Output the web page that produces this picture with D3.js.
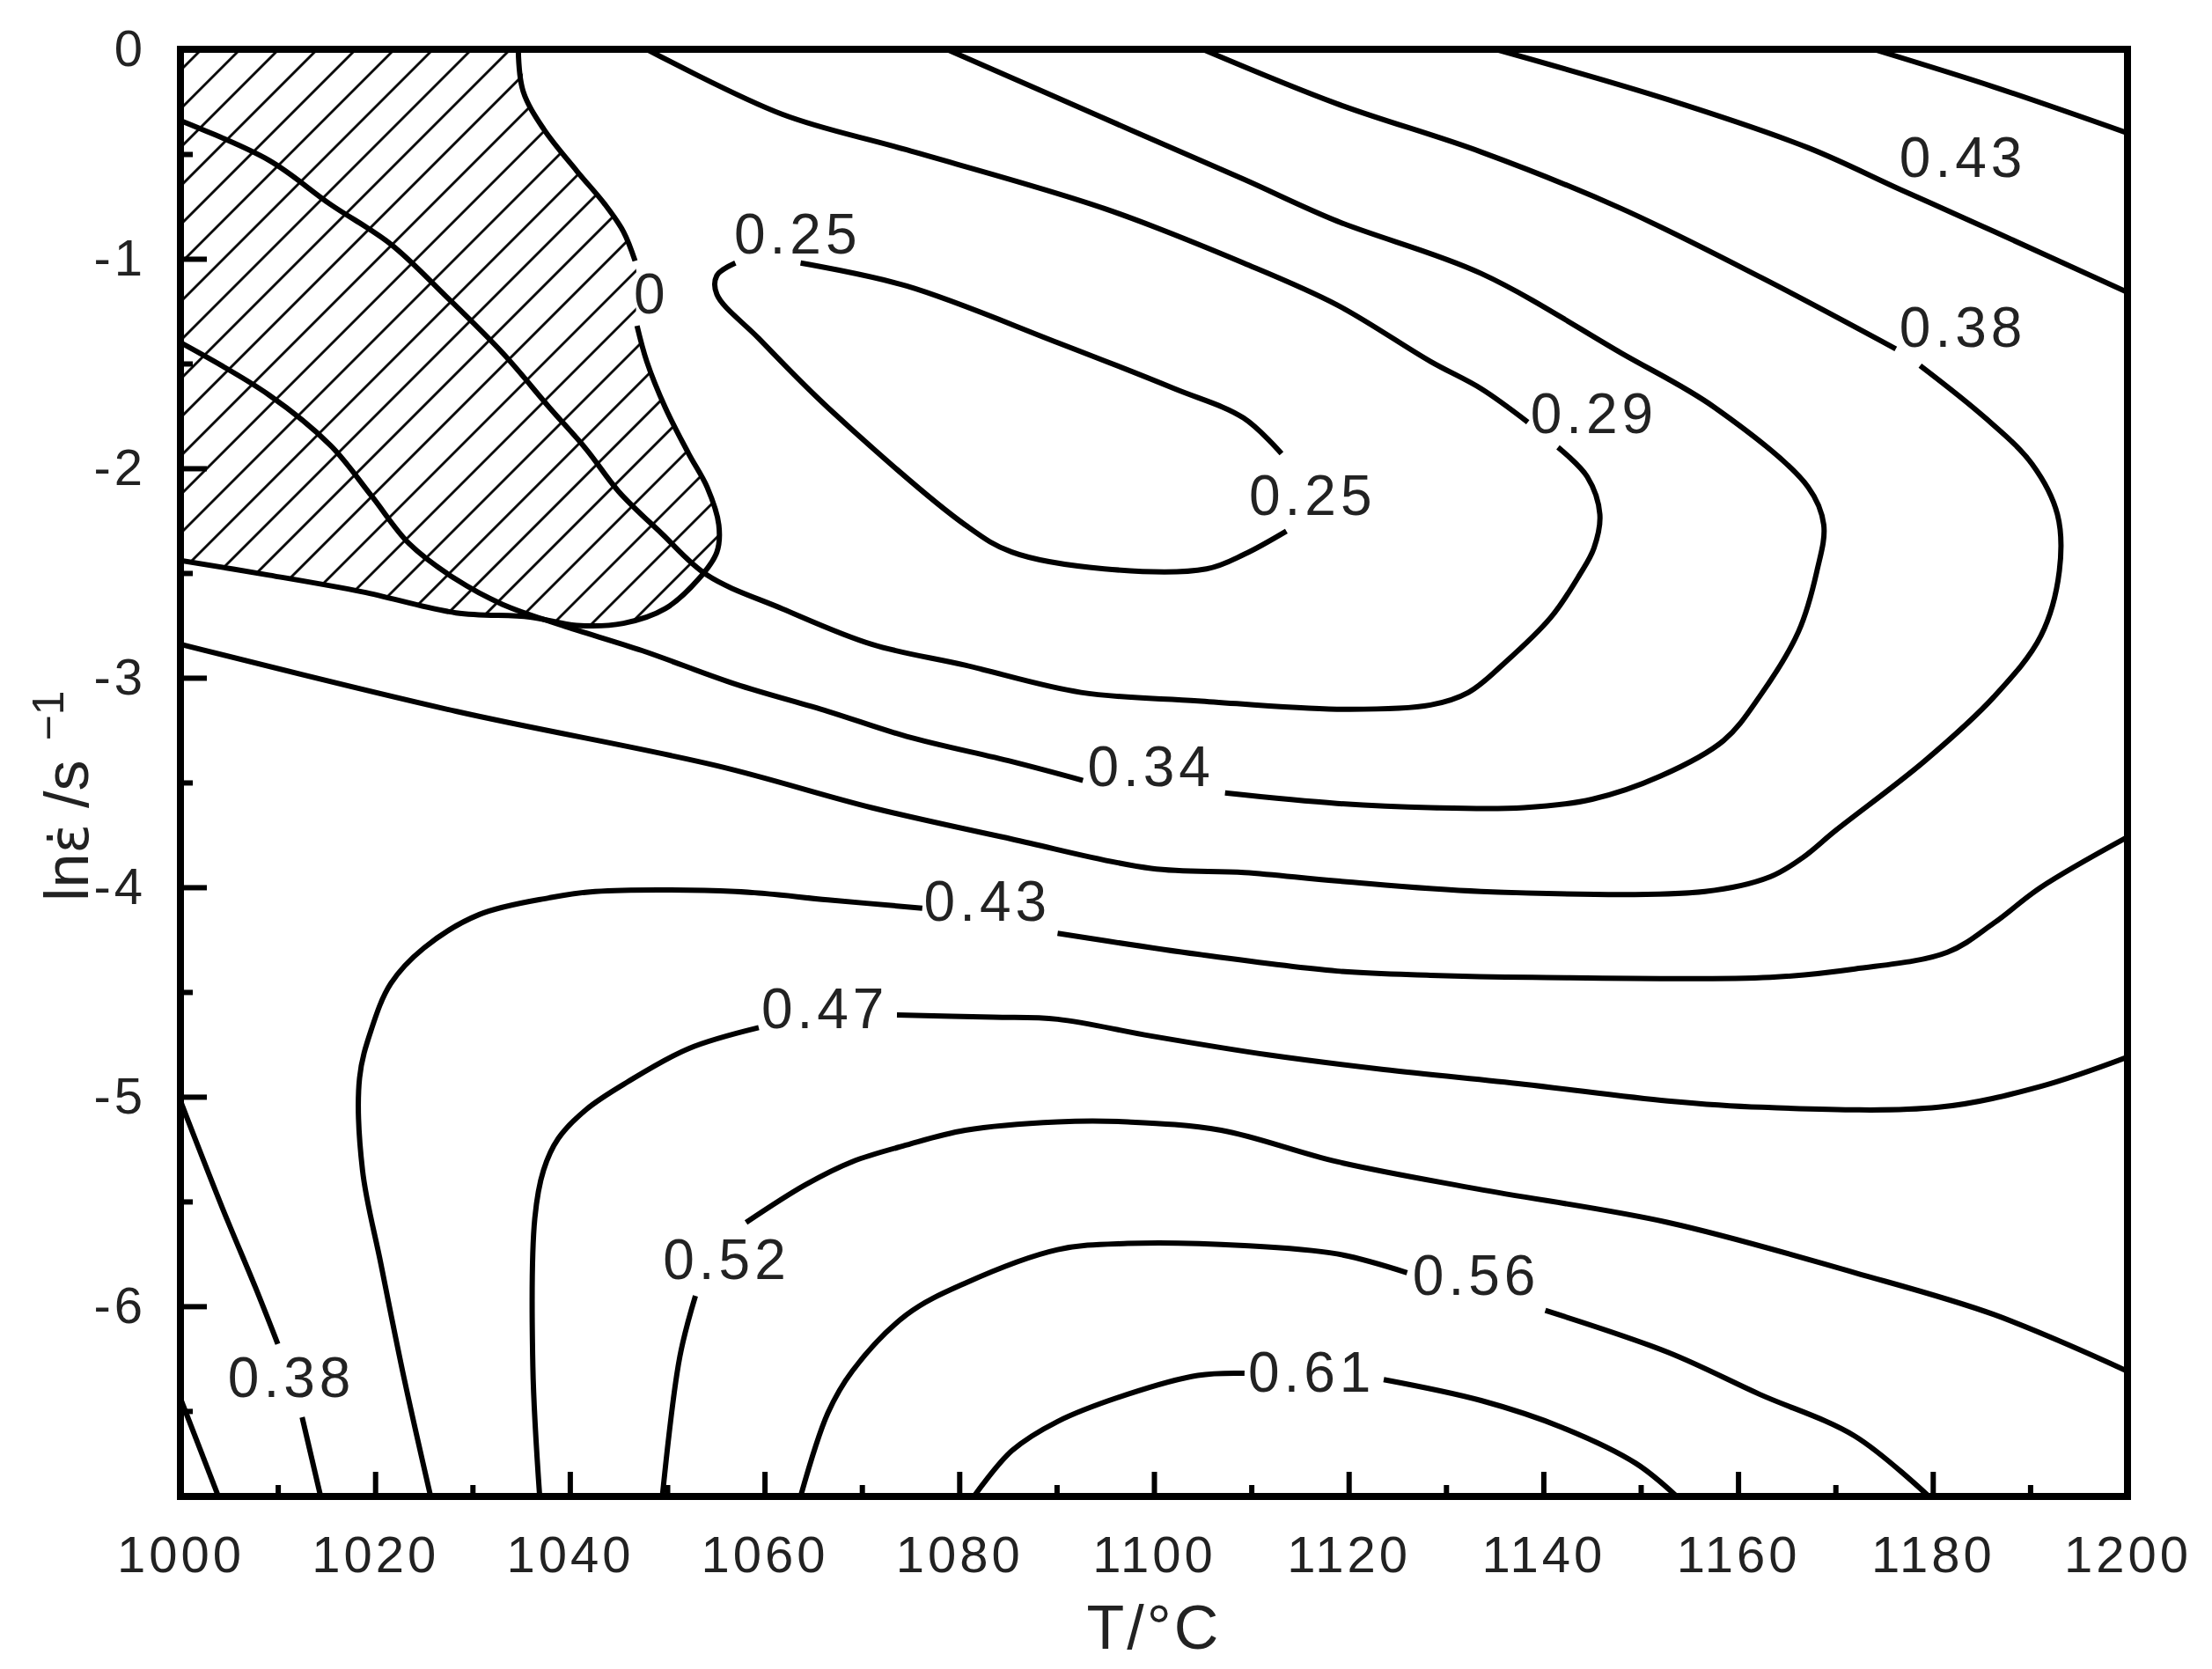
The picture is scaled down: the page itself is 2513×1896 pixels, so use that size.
<!DOCTYPE html>
<html>
<head>
<meta charset="utf-8">
<script src="https://cdn.jsdelivr.net/npm/d3@7"></script>
<style>
  html, body { margin: 0; padding: 0; background: #fff; }
  svg { display: block; }
  text { font-family: "Liberation Sans", Arial, sans-serif; }
</style>
</head>
<body>
<div id="chart"></div>
<script>
// ===== data (T in °C, lnε̇ in ln(s^-1)) =====
const xTicks = [1000, 1020, 1040, 1060, 1080, 1100, 1120, 1140, 1160, 1180, 1200];
const xMinor = [1010, 1030, 1050, 1070, 1090, 1110, 1130, 1150, 1170, 1190];
const yTicks = [0, -1, -2, -3, -4, -5, -6];
const yMinor = [-0.5, -1.5, -2.5, -3.5, -4.5, -5.5, -6.5];

// contour 0 (boundary of the hatched instability zone), split at its label
const c000a = [[1034.7,0],[1035.2,-0.20],[1037.3,-0.38],[1040.7,-0.58],[1043.6,-0.74],[1045.5,-0.87],[1046.7,-1.01]];
const c000b = [[1046.9,-1.32],[1047.9,-1.49],[1049.8,-1.71],[1052.2,-1.93],[1054.1,-2.09],[1055.3,-2.27],[1055.1,-2.40],[1053.2,-2.53],[1049.8,-2.67],[1045.5,-2.74],[1040.7,-2.75],[1035.9,-2.71],[1028.3,-2.69],[1018.7,-2.59],[1009.1,-2.51],[1000,-2.44]];

const c025a = [[1063.7,-1.02],[1074.6,-1.13],[1090.1,-1.40],[1102.1,-1.62],[1109.2,-1.76],[1113.1,-1.93]];
const c025b = [[1113.6,-2.30],[1109.3,-2.41],[1105.4,-2.48],[1094.9,-2.48],[1085.4,-2.40],[1080.6,-2.27],[1066.5,-1.71],[1059.4,-1.38],[1055.1,-1.17],[1055.1,-1.08],[1057.0,-1.02]];

const c029a = [[1047.9,0],[1061.8,-0.31],[1074.6,-0.48],[1094.9,-0.76],[1109.2,-1.02],[1118.8,-1.22],[1128.4,-1.49],[1133.6,-1.62],[1138.4,-1.78]];
const c029b = [[1141.5,-1.90],[1144.5,-2.04],[1145.8,-2.22],[1145.2,-2.38],[1143.7,-2.51],[1140.8,-2.71],[1136.0,-2.93],[1132.3,-3.07],[1128.4,-3.13],[1118.8,-3.15],[1104.5,-3.11],[1092.5,-3.07],[1080.6,-2.94],[1071.0,-2.84],[1061.8,-2.67],[1054.1,-2.51],[1049.4,-2.31],[1045.0,-2.11],[1041.7,-1.91],[1037.9,-1.71],[1033.1,-1.45],[1027.3,-1.18],[1021.6,-0.93],[1015.4,-0.74],[1009.1,-0.53],[1000,-0.34]];

const c034a = [[1078.7,0],[1094.9,-0.33],[1109.2,-0.62],[1118.8,-0.82],[1133.6,-1.07],[1148.0,-1.45],[1157.6,-1.71],[1167.2,-2.09],[1168.8,-2.27],[1168.1,-2.49],[1166.2,-2.78],[1162.2,-3.09],[1158.5,-3.30],[1152.0,-3.47],[1145.0,-3.58],[1138.0,-3.62],[1128.4,-3.62],[1118.8,-3.60],[1107.3,-3.55]];
const c034b = [[1092.7,-3.49],[1085.4,-3.40],[1074.6,-3.28],[1066.5,-3.16],[1057.0,-3.03],[1047.4,-2.87],[1039.2,-2.75],[1033.1,-2.65],[1028.3,-2.53],[1023.5,-2.36],[1019.6,-2.13],[1015.4,-1.89],[1009.1,-1.65],[1000,-1.40]];

const c038a = [[1105.0,0],[1118.8,-0.26],[1133.6,-0.49],[1148.0,-0.76],[1162.4,-1.09],[1176.2,-1.43]];
const c038b = [[1178.7,-1.51],[1185.4,-1.76],[1190.2,-1.98],[1192.8,-2.22],[1193.0,-2.49],[1191.1,-2.80],[1186.3,-3.09],[1179.1,-3.40],[1170.0,-3.73],[1166.6,-3.86],[1163.3,-3.95],[1156.6,-4.02],[1133.6,-4.02],[1118.8,-3.97],[1109.3,-3.93],[1099.7,-3.91],[1085.4,-3.77],[1071.0,-3.62],[1055.1,-3.42],[1028.3,-3.16],[1000,-2.84]];
const c038c = [[1000,-5.02],[1004.3,-5.53],[1007.7,-5.91],[1010.0,-6.18]];
const c038d = [[1012.5,-6.53],[1014.4,-6.908]];

const c043a = [[1135.1,0],[1152.8,-0.24],[1167.2,-0.47],[1176.7,-0.67],[1186.3,-0.87],[1200,-1.16]];
const c043b = [[1025.7,-6.908],[1023.0,-6.35],[1020.6,-5.80],[1018.7,-5.35],[1018.4,-4.91],[1019.6,-4.68],[1021.6,-4.46],[1025.0,-4.29],[1030.7,-4.13],[1037.9,-4.05],[1042.6,-4.02],[1057.0,-4.02],[1066.5,-4.06],[1076.2,-4.10]];
const c043c = [[1090.1,-4.22],[1104.5,-4.32],[1118.8,-4.40],[1128.4,-4.42],[1138.9,-4.43],[1163.3,-4.43],[1172.0,-4.39],[1181.5,-4.31],[1186.3,-4.17],[1191.1,-4.00],[1200,-3.76]];

const cTopRight = [[1173.9,0],[1186.3,-0.18],[1200,-0.40]];
const c047a = [[1036.9,-6.908],[1036.2,-6.29],[1036.4,-5.58],[1037.3,-5.35],[1038.8,-5.20],[1041.7,-5.06],[1045.9,-4.93],[1052.2,-4.77],[1059.4,-4.67]];
const c047b = [[1073.6,-4.61],[1083.5,-4.62],[1090.1,-4.63],[1099.7,-4.71],[1111.7,-4.80],[1123.6,-4.87],[1138.0,-4.94],[1152.8,-5.02],[1162.4,-5.05],[1180.6,-5.05],[1191.1,-4.95],[1200,-4.81]];

const c052a = [[1058.1,-5.60],[1064.2,-5.42],[1069.0,-5.31],[1074.6,-5.23],[1080.6,-5.16],[1090.1,-5.12],[1097.3,-5.12],[1106.9,-5.16],[1118.8,-5.31],[1133.2,-5.44],[1152.8,-5.60],[1172.0,-5.84],[1186.3,-6.04],[1200,-6.31]];
const c052b = [[1052.9,-5.95],[1051.3,-6.24],[1049.5,-6.908]];

const c056a = [[1063.7,-6.908],[1066.5,-6.51],[1069.0,-6.31],[1074.6,-6.04],[1080.6,-5.89],[1090.1,-5.73],[1097.3,-5.70],[1109.3,-5.71],[1118.8,-5.75],[1126.0,-5.84]];
const c056b = [[1140.2,-6.02],[1152.8,-6.22],[1162.2,-6.42],[1172.0,-6.62],[1179.6,-6.908]];

const c061a = [[1081.5,-6.908],[1085.4,-6.69],[1090.1,-6.55],[1097.3,-6.42],[1104.5,-6.33],[1109.3,-6.32]];
const c061b = [[1123.6,-6.35],[1133.6,-6.45],[1142.0,-6.58],[1149.5,-6.75],[1153.7,-6.908]];

const cCorner = [[1000,-6.44],[1003.9,-6.908]];

// inline contour labels: [text, T, lnε̇]
const contourLabels = [
  ["0", 1048.4, -1.164],
  ["0.25", 1063.4, -0.878],
  ["0.25", 1116.3, -2.126],
  ["0.29", 1145.2, -1.735],
  ["0.43", 1183.1, -0.513],
  ["0.38", 1183.1, -1.324],
  ["0.34", 1099.7, -3.420],
  ["0.43", 1082.9, -4.063],
  ["0.47", 1066.2, -4.576],
  ["0.52", 1056.1, -5.773],
  ["0.56", 1133.1, -5.849],
  ["0.61", 1116.2, -6.311],
  ["0.38", 1011.4, -6.336]
];

(function () {
  const W = 2513, H = 1896;
  const PLOT = { left: 205, top: 56, right: 2417, bottom: 1700 };

  const svg = d3.select('#chart').append('svg')
    .attr('width', W).attr('height', H)
    .style('background', '#fff');

  const x = d3.scaleLinear().domain([1000, 1200]).range([PLOT.left, PLOT.right]);
  const y = d3.scaleLinear().domain([-6.908, 0]).range([PLOT.bottom, PLOT.top]);

  const defs = svg.append('defs');
  defs.append('clipPath').attr('id', 'plotClip')
    .append('rect')
    .attr('x', PLOT.left).attr('y', PLOT.top)
    .attr('width', PLOT.right - PLOT.left).attr('height', PLOT.bottom - PLOT.top);

  // diagonal hatching
  const hatch = defs.append('pattern').attr('id', 'hatch')
    .attr('patternUnits', 'userSpaceOnUse')
    .attr('width', 31).attr('height', 31)
    .attr('patternTransform', 'rotate(45)');
  hatch.append('line')
    .attr('x1', 15.5).attr('y1', 0).attr('x2', 15.5).attr('y2', 31)
    .attr('stroke', '#000').attr('stroke-width', 2.8);

  const line = d3.line()
    .x(d => x(d[0])).y(d => y(d[1]))
    .curve(d3.curveCatmullRom.alpha(0.5));

  const plot = svg.append('g').attr('clip-path', 'url(#plotClip)');

  // hatched region: top-left corner + the 0 contour
  const zone = [[1000, 0]].concat(c000a, c000b);
  plot.append('path')
    .attr('d', line(zone) + 'Z')
    .attr('fill', 'url(#hatch)')
    .attr('stroke', 'none');

  const contours = [c000a, c000b, c025a, c025b, c029a, c029b, c034a, c034b,
    c038a, c038b, c038c, c038d, c043a, c043b, c043c, cTopRight, c047a, c047b,
    c052a, c052b, c056a, c056b, c061a, c061b, cCorner];

  plot.selectAll('path.contour')
    .data(contours)
    .join('path')
    .attr('class', 'contour')
    .attr('d', line)
    .attr('fill', 'none')
    .attr('stroke', '#000')
    .attr('stroke-width', 6)
    .attr('stroke-linejoin', 'round');

  // contour labels
  svg.append('g').selectAll('text')
    .data(contourLabels)
    .join('text')
    .attr('x', d => x(d[1]))
    .attr('y', d => y(d[2]))
    .attr('dy', '0.36em')
    .attr('text-anchor', 'middle')
    .style('font-size', '64px')
    .style('letter-spacing', '5px')
    .attr('fill', '#222')
    .text(d => d[0]);

  // ---- axes (ticks inward) ----
  const styleAxis = sel => {
    sel.select('.domain').remove();
    sel.selectAll('.tick line').attr('stroke', '#000').attr('stroke-width', 6);
  };

  const gx = svg.append('g').attr('transform', `translate(0,${PLOT.bottom})`)
    .call(d3.axisBottom(x).tickValues(xTicks).tickSize(-28).tickPadding(45).tickFormat(d => String(d)))
    .call(styleAxis);
  svg.append('g').attr('transform', `translate(0,${PLOT.bottom})`)
    .call(d3.axisBottom(x).tickValues(xMinor).tickSize(-13).tickFormat(''))
    .call(styleAxis);

  const gy = svg.append('g').attr('transform', `translate(${PLOT.left},0)`)
    .call(d3.axisLeft(y).tickValues(yTicks).tickSize(-30).tickPadding(39).tickFormat(d => String(d)))
    .call(styleAxis);
  svg.append('g').attr('transform', `translate(${PLOT.left},0)`)
    .call(d3.axisLeft(y).tickValues(yMinor).tickSize(-14).tickFormat(''))
    .call(styleAxis);

  [gx, gy].forEach(g => g.selectAll('.tick text')
    .attr('fill', '#222')
    .style('font-size', '58px')
    .style('letter-spacing', '4px')
    .style('font-family', '"Liberation Sans", Arial, sans-serif'));

  // frame
  svg.append('rect')
    .attr('x', PLOT.left).attr('y', PLOT.top)
    .attr('width', PLOT.right - PLOT.left).attr('height', PLOT.bottom - PLOT.top)
    .attr('fill', 'none').attr('stroke', '#000').attr('stroke-width', 8);

  // axis titles
  svg.append('text')
    .attr('x', (PLOT.left + PLOT.right) / 2)
    .attr('y', 1873)
    .attr('text-anchor', 'middle')
    .attr('fill', '#222')
    .style('font-size', '70px')
    .style('letter-spacing', '3px')
    .text('T/°C');

  const yt = svg.append('text')
    .attr('transform', 'translate(100,1024) rotate(-90)')
    .attr('fill', '#222')
    .style('font-size', '70px');
  yt.append('tspan').text('ln');
  yt.append('tspan').style('font-family', '"DejaVu Sans", sans-serif').style('font-size', '62px').text('\u03b5\u0307');
  yt.append('tspan').attr('dx', 18).text('/s');
  yt.append('tspan').attr('dx', 22).attr('dy', -28).style('font-size', '50px').text('\u22121');
})();
</script>
</body>
</html>
